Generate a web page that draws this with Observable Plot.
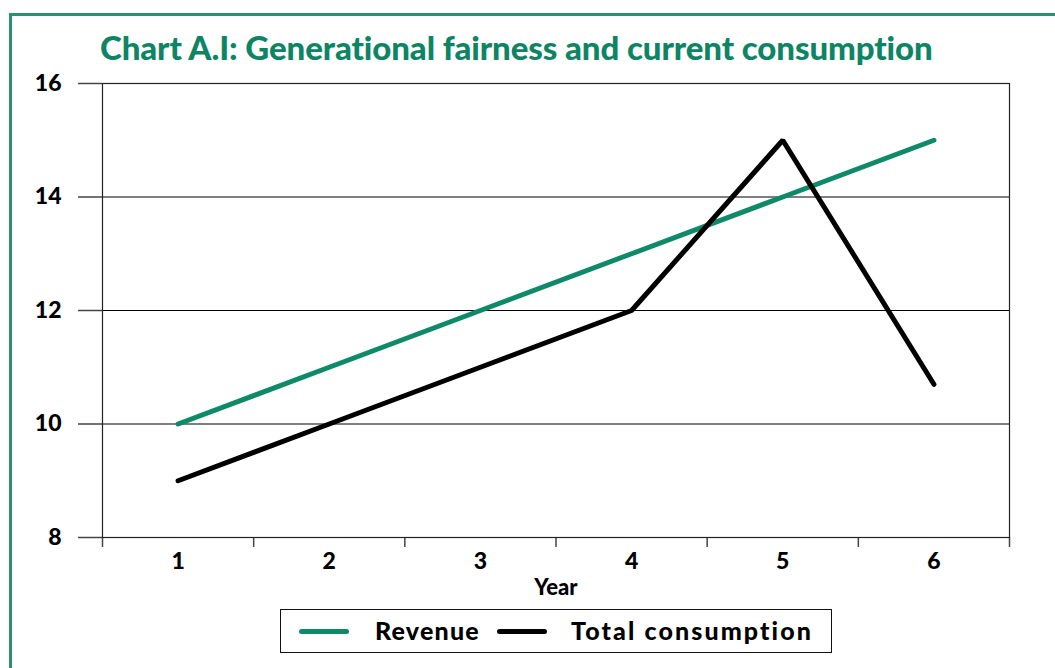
<!DOCTYPE html>
<html><head><meta charset="utf-8">
<script src="https://cdn.jsdelivr.net/npm/d3@7"></script>
<script src="https://cdn.jsdelivr.net/npm/@observablehq/plot@0.6"></script>
<style>
html,body{margin:0;padding:0;background:#fff;}
#wrap{position:relative;width:1055px;height:668px;overflow:hidden;font-family:"Lato","DejaVu Sans",sans-serif;}
#border{position:absolute;left:9px;top:13px;width:1200px;height:800px;border-left:3px solid #2a9070;border-top:3px solid #2a9070;}
#title{position:absolute;left:100px;top:27px;font-size:33px;font-weight:900;color:#0d8565;letter-spacing:-0.1px;white-space:nowrap;}
#chart{position:absolute;left:0;top:0;}
#legend{position:absolute;left:280px;top:609px;width:550px;height:42px;border:1.5px solid #111;font-weight:900;font-size:25px;color:#000;}
.sw{position:absolute;top:19px;width:50px;height:5px;border-radius:3px;}
.lt{position:absolute;top:5px;white-space:nowrap;}
</style></head>
<body><div id="wrap">
<div id="border"></div>
<div id="chart"></div>
<div id="title">Chart A.I: Generational fairness and current consumption</div>
<div id="legend">
 <div class="sw" style="left:18px;background:#0e8a68"></div><div class="lt" style="left:94px;letter-spacing:1.2px">Revenue</div>
 <div class="sw" style="left:216px;background:#000"></div><div class="lt" style="left:290px;letter-spacing:2.1px">Total consumption</div>
</div>
</div>
<script>
const years = [1, 2, 3, 4, 5, 6];
const revenue = [10, 11, 12, 13, 14, 15];
const totalConsumption = [9, 10, 11, 12, 15, 10.7];
const yTicks = [8, 10, 12, 14, 16];
const gridTicks = [10, 12, 14];
const bandEdges = [0.5, 1.5, 2.5, 3.5, 4.5, 5.5, 6.5];

const rows = [];
years.forEach((y, i) => rows.push({year: y, value: revenue[i], series: "Revenue"}));
years.forEach((y, i) => rows.push({year: y, value: totalConsumption[i], series: "Total consumption"}));

const plot = Plot.plot({
  width: 1055,
  height: 600,
  marginTop: 83,
  marginLeft: 102,
  marginRight: 46,
  marginBottom: 63,
  style: {fontFamily: "Lato, 'DejaVu Sans', sans-serif", fontWeight: 900, fontSize: "22px", color: "#000", background: "transparent"},
  x: {domain: [0.5, 6.5]},
  y: {domain: [8, 16]},
  marks: [
    Plot.ruleY(gridTicks, {stroke: "#000", strokeWidth: 1}),
    Plot.axisY({ticks: yTicks, tickSize: 24, tickPadding: 17, stroke: "#444", strokeWidth: 1.5, label: null, tickFormat: d => d, fontSize: 23, fontWeight: 900}),
    Plot.axisX({ticks: bandEdges, tickSize: 10, tickFormat: () => "", stroke: "#444", strokeWidth: 1.5, label: null}),
    Plot.axisX({ticks: years, tickSize: 0, tickPadding: 15, label: null, tickFormat: d => d, fontSize: 23, fontWeight: 900}),
    Plot.frame({stroke: "#222", strokeWidth: 1.2}),
    Plot.line(rows, {x: "year", y: "value", z: "series",
      stroke: d => d.series === "Revenue" ? "#0e8a68" : "#000",
      strokeWidth: 5, strokeLinecap: "round", strokeLinejoin: "miter"}),
    Plot.text(["Year"], {frameAnchor: "bottom", dy: 57, text: d => d, fontSize: 22, fontWeight: 900})
  ]
});
document.getElementById("chart").appendChild(plot);
</script>
</body></html>
